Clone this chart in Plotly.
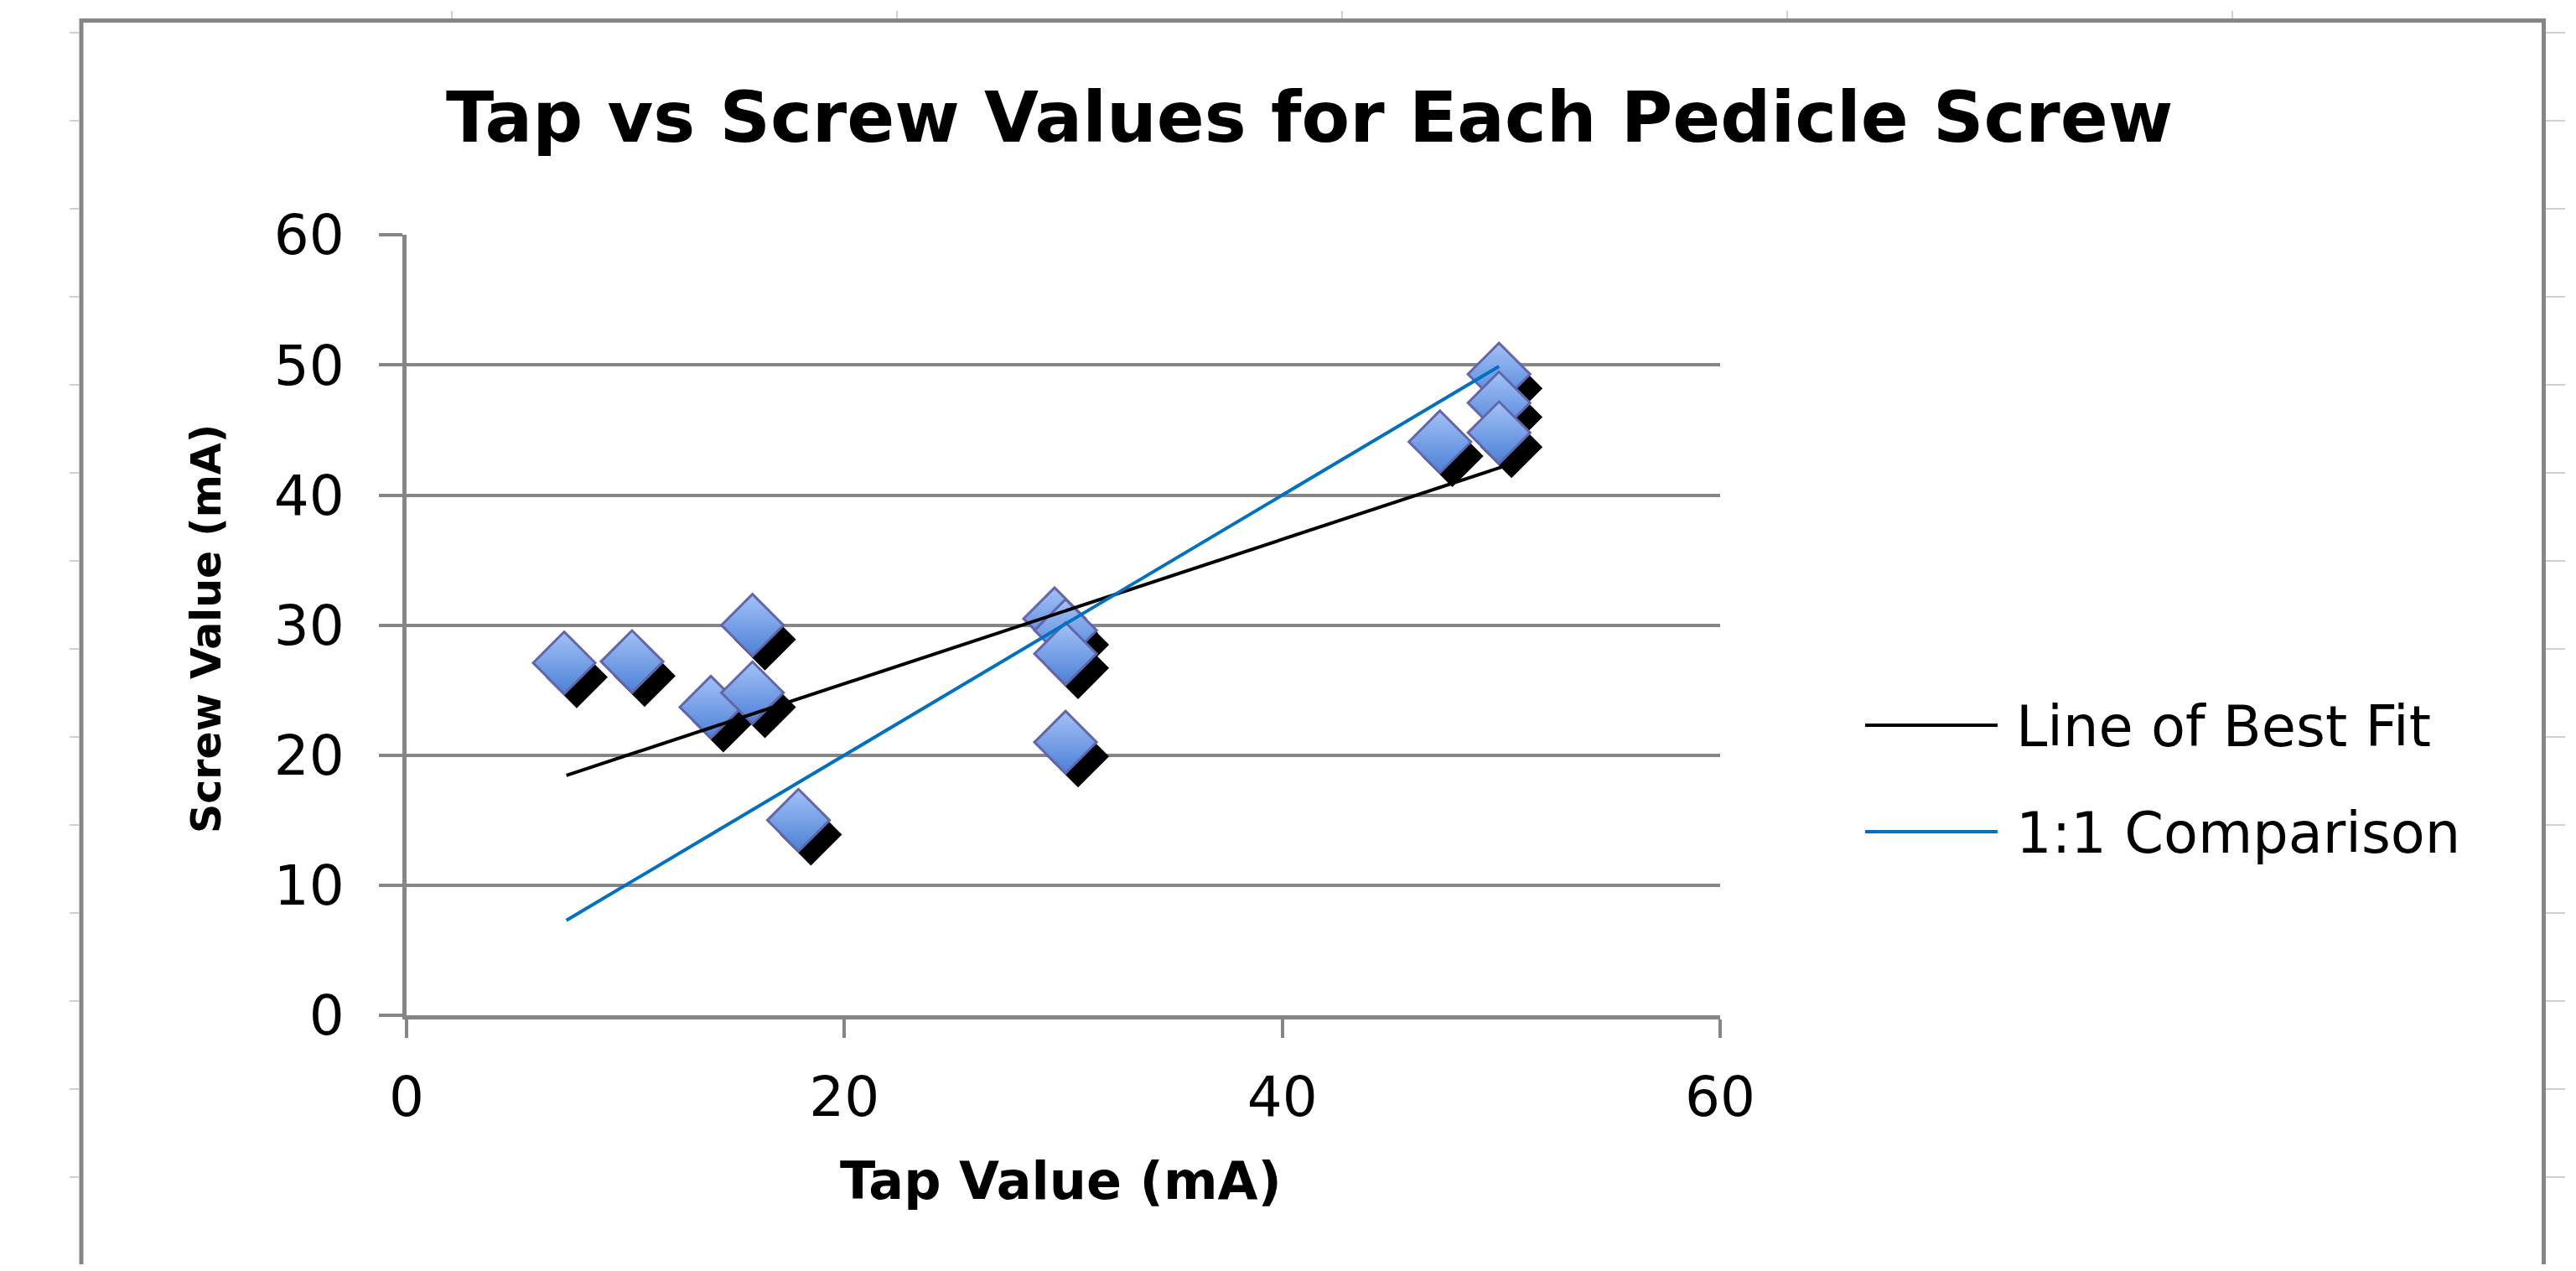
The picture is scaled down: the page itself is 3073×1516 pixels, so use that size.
import plotly.graph_objects as go

# page body has an 8px margin; size the figure to fill the window exactly
OFF = 8
W, H = 3073 - 2 * OFF, 1516 - 2 * OFF

# ---- data ----
tap_values = [7.2, 10.3, 13.9, 15.8, 15.8, 17.9, 29.6, 30.1, 30.1, 30.1, 47.2, 49.9, 49.9, 49.9]
screw_values = [27.1, 27.2, 23.7, 30.0, 24.8, 15.0, 30.5, 29.6, 27.8, 21.0, 44.1, 49.3, 47.1, 44.8]

fit_x = [7.3, 50.1]
fit_y = [18.45, 42.2]

one_to_one_x = [7.3, 49.9]
one_to_one_y = [7.3, 49.9]

x_ticks = [0, 20, 40, 60]
y_ticks = [0, 10, 20, 30, 40, 50, 60]

title_text = "Tap vs Screw Values for Each Pedicle Screw"
x_title = "Tap Value (mA)"
y_title = "Screw Value (mA)"
legend_names = ["Line of Best Fit", "1:1 Comparison"]
legend_colors = ["#000000", "#0070C0"]


def px(x):
    return (x - OFF) / W


def py(y):
    return 1 - (y - OFF) / H


GRID = "#868686"
FONT = "DejaVu Sans"

# shadow offset (style, in data units)
SHX, SHY = 0.57, -1.1
MSIZE = 57

fig = go.Figure()

fig.add_trace(go.Scatter(
    x=[v + SHX for v in tap_values], y=[v + SHY for v in screw_values],
    mode="markers", showlegend=False, hoverinfo="skip",
    marker=dict(symbol="diamond", size=MSIZE, color="#000000",
                line=dict(width=0)),
))
fig.add_trace(go.Scatter(
    x=tap_values, y=screw_values, mode="markers", name="Screw",
    showlegend=False,
    marker=dict(symbol="diamond", size=MSIZE, color="#A3C2F7",
                gradient=dict(type="vertical", color="#4C80D6"),
                line=dict(width=3, color="#6366AA")),
))
fig.add_trace(go.Scatter(
    x=fit_x, y=fit_y, mode="lines", name=legend_names[0], showlegend=False,
    line=dict(color=legend_colors[0], width=4),
))
fig.add_trace(go.Scatter(
    x=one_to_one_x, y=one_to_one_y, mode="lines", name=legend_names[1],
    showlegend=False, line=dict(color=legend_colors[1], width=4),
))

shapes = []
# spreadsheet cell marks behind the chart object
for k in range(15):
    yy = 39 + 105 * k
    shapes.append(dict(type="line", xref="paper", yref="paper",
                       x0=px(83), x1=px(94), y0=py(yy), y1=py(yy),
                       line=dict(color="#D0D0D0", width=2), layer="below"))
    shapes.append(dict(type="line", xref="paper", yref="paper",
                       x0=px(3037), x1=px(3060), y0=py(yy), y1=py(yy),
                       line=dict(color="#D0D0D0", width=2), layer="below"))
for xx in [539, 1070, 1601, 2132, 2663]:
    shapes.append(dict(type="line", xref="paper", yref="paper",
                       x0=px(xx), x1=px(xx), y0=py(13), y1=py(22),
                       line=dict(color="#D0D0D0", width=2), layer="below"))
# chart frame
shapes.append(dict(type="rect", xref="paper", yref="paper",
                   x0=px(97), x1=px(3034.5), y0=py(24.5), y1=py(1600),
                   line=dict(color=GRID, width=5), fillcolor="rgba(0,0,0,0)",
                   layer="below"))
# legend samples
for i, yy in enumerate([865, 992]):
    shapes.append(dict(type="line", xref="paper", yref="paper",
                       x0=px(2225), x1=px(2383), y0=py(yy), y1=py(yy),
                       line=dict(color=legend_colors[i], width=4)))

annotations = [
    dict(text=title_text, x=px(1562), y=py(140), xref="paper", yref="paper",
         showarrow=False, xanchor="center", yanchor="middle",
         font=dict(family=FONT, size=84, color="#000000", weight="bold")),
    dict(text=x_title, x=px(1265), y=py(1408), xref="paper", yref="paper",
         showarrow=False, xanchor="center", yanchor="middle",
         font=dict(family=FONT, size=62, color="#000000", weight="bold")),
    dict(text=y_title, x=px(247), y=py(750), xref="paper", yref="paper",
         showarrow=False, xanchor="center", yanchor="middle", textangle=-90,
         font=dict(family=FONT, size=49, color="#000000", weight="bold")),
]
for i, yy in enumerate([865, 992]):
    annotations.append(dict(text=legend_names[i], x=px(2403), y=py(yy + 2),
                            xref="paper", yref="paper", showarrow=False,
                            xanchor="left", yanchor="middle",
                            font=dict(family=FONT, size=67, color="#000000")))

fig.update_layout(
    width=W, height=H,
    margin=dict(l=0, r=0, t=0, b=0, pad=0, autoexpand=False),
    paper_bgcolor="white", plot_bgcolor="white",
    showlegend=False,
    shapes=shapes, annotations=annotations,
    xaxis=dict(domain=[px(485), px(2052)], range=[0, 60], automargin=False,
               tickvals=x_ticks, ticktext=[str(v) for v in x_ticks],
               showgrid=False, zeroline=False,
               showline=True, linecolor=GRID, linewidth=5,
               ticks="outside", ticklen=22, tickwidth=4, tickcolor=GRID,
               ticklabelstandoff=14,
               tickfont=dict(family=FONT, size=66, color="#000000")),
    yaxis=dict(domain=[py(1211), py(280)], range=[0, 60.02], automargin=False,
               tickvals=y_ticks, ticktext=[str(v) for v in y_ticks],
               showgrid=True, gridcolor=GRID, gridwidth=4, zeroline=False,
               showline=True, linecolor=GRID, linewidth=5,
               ticks="outside", ticklen=28, tickwidth=4, tickcolor=GRID,
               ticklabelstandoff=28,
               tickfont=dict(family=FONT, size=66, color="#000000")),
)

fig.write_html("out.html")
